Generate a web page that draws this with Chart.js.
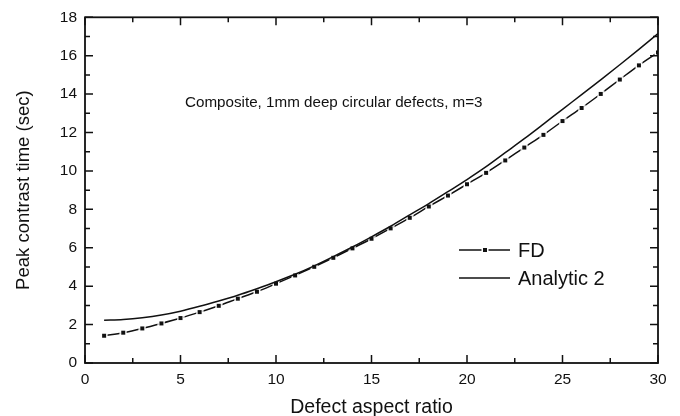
<!DOCTYPE html>
<html>
<head>
<meta charset="utf-8">
<script src="https://cdn.jsdelivr.net/npm/chart.js@4.4.1/dist/chart.umd.min.js"></script>
<style>
  html, body { margin: 0; padding: 0; background: #fff; }
  #wrap { width: 680px; height: 416px; }
</style>
</head>
<body>
<div id="wrap"><canvas id="peakChart" width="680" height="416"></canvas></div>
<script>
// values
const aspectRatio = [1, 2, 3, 4, 5, 6, 7, 8, 9, 10, 11, 12, 13, 14, 15,
                     16, 17, 18, 19, 20, 21, 22, 23, 24, 25, 26, 27, 28, 29, 30];
const fdTime = [1.42, 1.58, 1.80, 2.06, 2.34, 2.65, 2.98, 3.35, 3.71, 4.13,
                4.56, 5.01, 5.48, 5.97, 6.47, 7.01, 7.56, 8.15, 8.72, 9.31,
                9.90, 10.55, 11.22, 11.88, 12.60, 13.28, 14.01, 14.76, 15.50, 16.17];
const analyticTime = [2.23, 2.27, 2.36, 2.50, 2.70, 2.95, 3.23, 3.53, 3.87, 4.23,
                      4.62, 5.06, 5.54, 6.04, 6.57, 7.12, 7.71, 8.30, 8.92, 9.55,
                      10.22, 10.95, 11.68, 12.44, 13.21, 13.97, 14.74, 15.53, 16.33, 17.15];
const xTicks = [0, 5, 10, 15, 20, 25, 30];
const yTicks = [0, 2, 4, 6, 8, 10, 12, 14, 16, 18];
const seriesNames = ['FD', 'Analytic 2'];
const noteText = 'Composite, 1mm deep circular defects, m=3';

const FONT = "'Liberation Sans', Arial, Helvetica, sans-serif";
const INK = '#111';

// square marker with a small white gap around it (line breaks at the symbol)
function make_marker() {
    let c = document.createElement('canvas');
    c.width = 8; c.height = 8;
    let g = c.getContext('2d');
    g.fillStyle = '#fff';
    g.fillRect(0.5, 0.5, 7, 7);
    g.fillStyle = INK;
    g.fillRect(2, 2, 4, 4);
    return c;
}
const markerImg = make_marker();

const frameTicks = {
    id: 'frameTicks',
    afterDatasetsDraw(chart) {
        const ctx = chart.ctx;
        const a = chart.chartArea;
        const xs = chart.scales.x, ys = chart.scales.y;
        ctx.save();
        ctx.strokeStyle = INK;
        ctx.lineWidth = 1.5;
        ctx.beginPath();
        let xMinor = [];
        for (let i = 0; i < xTicks.length - 1; i++) xMinor.push((xTicks[i] + xTicks[i + 1]) / 2);
        let yMinor = [];
        for (let i = 0; i < yTicks.length - 1; i++) yMinor.push((yTicks[i] + yTicks[i + 1]) / 2);
        const tickX = (v, len) => {
            let px = xs.getPixelForValue(v);
            ctx.moveTo(px, a.bottom); ctx.lineTo(px, a.bottom - len);
            ctx.moveTo(px, a.top); ctx.lineTo(px, a.top + len);
        };
        const tickY = (v, len) => {
            let py = ys.getPixelForValue(v);
            ctx.moveTo(a.left, py); ctx.lineTo(a.left + len, py);
            ctx.moveTo(a.right, py); ctx.lineTo(a.right - len, py);
        };
        xTicks.forEach(v => tickX(v, 8));
        xMinor.forEach(v => tickX(v, 5));
        yTicks.forEach(v => tickY(v, 8));
        yMinor.forEach(v => tickY(v, 5));
        ctx.stroke();
        ctx.lineWidth = 1.8;
        ctx.strokeRect(a.left, a.top, a.right - a.left, a.bottom - a.top);

        // note text
        ctx.fillStyle = INK;
        ctx.font = '15.2px ' + FONT;
        ctx.textBaseline = 'alphabetic';
        ctx.textAlign = 'left';
        ctx.fillText(noteText, 185, 107);

        // legend
        const lx0 = 459, lx1 = 510;
        const rows = [250, 278];
        ctx.lineWidth = 1.5;
        rows.forEach((y, i) => {
            ctx.beginPath();
            ctx.moveTo(lx0, y); ctx.lineTo(lx1, y);
            ctx.stroke();
            if (i === 0) ctx.drawImage(markerImg, Math.round((lx0 + lx1) / 2) - 4, y - 4);
            ctx.font = '20px ' + FONT;
            ctx.fillText(seriesNames[i], 518, y + 7.2);
        });
        ctx.restore();
    }
};

new Chart(document.getElementById('peakChart'), {
    type: 'line',
    data: {
        datasets: [
            {
                label: seriesNames[1],
                data: aspectRatio.map((x, i) => ({ x: x, y: analyticTime[i] })),
                borderColor: INK,
                borderWidth: 1.5,
                pointRadius: 0,
                fill: false,
                cubicInterpolationMode: 'monotone'
            },
            {
                label: seriesNames[0],
                data: aspectRatio.map((x, i) => ({ x: x, y: fdTime[i] })),
                borderColor: INK,
                borderWidth: 1.5,
                pointStyle: markerImg,
                pointRadius: 4,
                fill: false,
                cubicInterpolationMode: 'monotone'
            }
        ]
    },
    options: {
        responsive: false,
        animation: false,
        events: [],
        layout: { padding: { top: 17, right: 22, left: 0, bottom: 0 } },
        plugins: {
            legend: { display: false },
            tooltip: { enabled: false }
        },
        scales: {
            x: {
                type: 'linear',
                min: 0, max: 30,
                afterBuildTicks: (s) => { s.ticks = xTicks.map(v => ({ value: v })); },
                afterFit: (s) => { s.height = 53; },
                grid: { display: false, drawTicks: false },
                border: { display: false },
                ticks: { color: INK, font: { size: 15.5, family: FONT }, padding: 7, maxRotation: 0 },
                title: {
                    display: true, text: 'Defect aspect ratio', color: INK,
                    font: { size: 19.5, family: FONT, lineHeight: 1 }, padding: { top: 0, bottom: -1 }
                }
            },
            y: {
                type: 'linear',
                min: 0, max: 18,
                afterBuildTicks: (s) => { s.ticks = yTicks.map(v => ({ value: v })); },
                afterFit: (s) => { s.width = 85; },
                grid: { display: false, drawTicks: false },
                border: { display: false },
                ticks: { color: INK, font: { size: 15.5, family: FONT }, padding: 8 },
                title: {
                    display: true, text: 'Peak contrast time (sec)', color: INK,
                    font: { size: 18.5, family: FONT, lineHeight: 1 }, padding: { top: 15, bottom: 0 }
                }
            }
        }
    },
    plugins: [frameTicks]
});
</script>
</body>
</html>
